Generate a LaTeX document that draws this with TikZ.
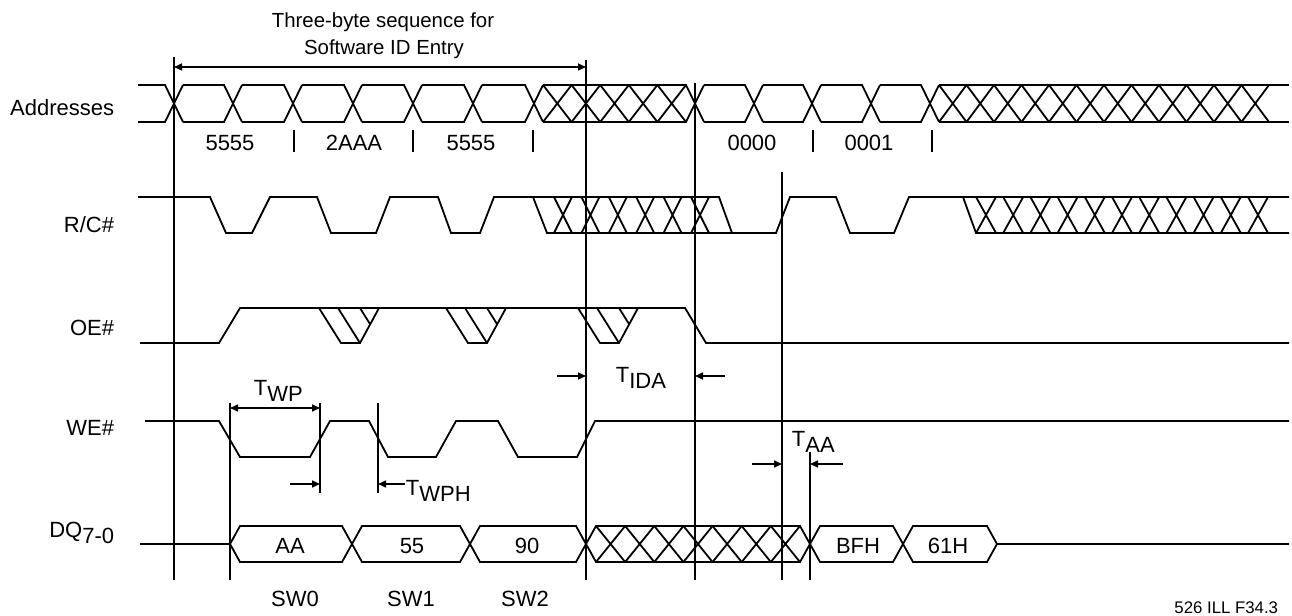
\documentclass[tikz,border=0pt]{standalone}
\usepackage{fontspec}
\setmainfont{Liberation Sans}
\usetikzlibrary{arrows.meta}

\tikzset{
  markline/.style={line width=0.8pt},
  dimarrow/.style={line width=0.8pt, -{Triangle[length=4pt, width=3.5pt]}},
  dimboth/.style={line width=0.8pt, {Triangle[length=4pt, width=3.5pt]}-{Triangle[length=4pt, width=3.5pt]}},
  signame/.style={anchor=base east, inner sep=0pt, font=\fontsize{11}{13}\selectfont},
  valtext/.style={anchor=base, inner sep=0pt, font=\fontsize{11}{13}\selectfont},
  tlabel/.style={anchor=base west, inner sep=0pt, font=\fontsize{11}{13}\selectfont},
}
\newcommand{\lowsub}[1]{\raisebox{-3.3pt}{#1}}

\begin{document}
\begin{tikzpicture}[x=0.5pt, y=-0.5pt, line width=0.9pt]
	\useasboundingbox (0,0) rectangle (1292,616);
	
	% title
	\node[valtext, font=\fontsize{10.2}{12}\selectfont] (title1) at (383,27) {Three-byte sequence for};
	\node[valtext, font=\fontsize{10.2}{12}\selectfont] (title2) at (384,54) {Software ID Entry};
	
	% signal names
	\node[signame] (addr) at (115,115) {Addresses};
	\node[signame] (rc) at (115,232) {R/C\#};
	\node[signame] (oe) at (115,335) {OE\#};
	\node[signame] (we) at (115,435) {WE\#};
	\node[signame] (dq) at (115,537) {DQ\lowsub{7-0}};
	
	% marker lines
	\coordinate (m1) at (174,57);
	\coordinate (m2) at (586,60);
	\coordinate (m3) at (695,83);
	\coordinate (m4) at (782,172);
	\coordinate (m5) at (810,452);
	\coordinate (wp1) at (230,403);
	\coordinate (wp2) at (320,403);
	\coordinate (wph) at (378,403);
	\foreach \m in {m1,m2,m3,m4,m5,wp1}
		\draw[markline] (\m) -- (\m |- 0,580);
	\foreach \m in {wp2,wph}
		\draw[markline] (\m) -- (\m |- 0,493);
	
	% Addresses
	\draw (138,85) -- (165,85) -- (183,122) (138,122) -- (165,122) -- (183,85);
	\foreach \a/\b in {174/233, 233/293, 293/353, 353/413, 413/473, 473/534, 695/754, 754/812, 812/871, 871/930}
		\draw (\a+9,85) -- (\b-9,85) -- (\b+9,122) (\a+9,122) -- (\b-9,122) -- (\b+9,85);
	\draw (543,85) -- (686,85) -- (704,122) (543,122) -- (686,122) -- (704,85);
	\foreach \k in {0,...,4}
		\draw (543+28.6*\k,85) -- (571.6+28.6*\k,122) (543+28.6*\k,122) -- (571.6+28.6*\k,85);
	\draw (939,85) -- (1289,85) (939,122) -- (1289,122);
	\foreach \k in {0,...,11}
		\draw (939+27.5*\k,85) -- (966.5+27.5*\k,122) (939+27.5*\k,122) -- (966.5+27.5*\k,85);
	
	\node[valtext] (a1) at (230,150) {5555};
	\node[valtext] (a2) at (354,150) {2AAA};
	\node[valtext] (a3) at (471,150) {5555};
	\node[valtext] (a4) at (752,150) {0000};
	\node[valtext] (a5) at (869,150) {0001};
	\foreach \x in {294,413,533,813,932}
		\draw[markline] (\x,130) -- (\x,152);
	
	% R/C#
	\draw (138,197) -- (210,197) -- (226,233) -- (252,233) -- (270,197) -- (317,197) -- (331,233) -- (376,233) -- (390,197) -- (438,197) -- (451,233) -- (480,233) -- (494,197) -- (719,197) -- (732,233) -- (776,233) -- (790,197) -- (836,197) -- (850,233) -- (894,233) -- (909,197) -- (1289,197);
	\draw (533,197) -- (547,233) -- (732,233);
	\foreach \k in {0,...,5}
		\draw (554+27.4*\k,197) -- (572+27.4*\k,233) (554+27.4*\k,233) -- (572+27.4*\k,197);
	\draw (963,197) -- (976,233) -- (1289,233);
	\foreach \k in {0,...,10}
		\draw (976+27.2*\k,197) -- (996+27.2*\k,233) (976+27.2*\k,233) -- (996+27.2*\k,197);
	
	% OE#
	\draw (140,343) -- (219,343) -- (240,308) -- (685,308) -- (706,343) -- (1289,343);
	\foreach \x in {319,446,578} {
		\draw (\x,308) -- (\x+22,343) -- (\x+41,343) -- (\x+60,308);
		\draw (\x+19,308) -- (\x+41,343);
		\draw (\x+41,308) -- (\x+51,324);
	}
	
	% WE#
	\draw (145,421) -- (219,421) -- (240,457) -- (310,457) -- (330,421) -- (369,421) -- (388,457) -- (436,457) -- (456,421) -- (498,421) -- (518,457) -- (577,457) -- (595,421) -- (1289,421);
	
	% DQ
	\draw (140,544) -- (230,544) -- (240,526) -- (342,526) -- (362,562) -- (460,562) -- (480,526) -- (576,526) -- (596,562) -- (800,562) -- (820,526) -- (893,526) -- (913,562) -- (987,562) -- (997,544) -- (1289,544);
	\draw (230,544) -- (240,562) -- (342,562) -- (362,526) -- (460,526) -- (480,562) -- (576,562) -- (596,526) -- (800,526) -- (820,562) -- (893,562) -- (913,526) -- (987,526) -- (997,544);
	\foreach \k in {0,...,6}
		\draw (596+29.14*\k,526) -- (625.14+29.14*\k,562) (596+29.14*\k,562) -- (625.14+29.14*\k,526);
	
	\node[valtext] (d1) at (290,553) {AA};
	\node[valtext] (d2) at (412,553) {55};
	\node[valtext] (d3) at (527,553) {90};
	\node[valtext] (d4) at (858,553) {BFH};
	\node[valtext] (d5) at (948,553) {61H};
	
	\node[valtext] (sw0) at (295,606) {SW0};
	\node[valtext] (sw1) at (411,606) {SW1};
	\node[valtext] (sw2) at (525,606) {SW2};
	
	% timing marks
	\draw[dimboth] (m1 |- 0,67) -- (m2 |- 0,67);
	\draw[dimboth] (wp1 |- 0,408) -- (wp2 |- 0,408);
	\node[tlabel] (twp) at (253,395) {T\lowsub{WP}};
	\coordinate (wphin) at (290,484);
	\node[tlabel] (twph) at (405,495) {T\lowsub{WPH}};
	\draw[dimarrow] (wphin) -- (wp2 |- wphin);
	\draw[dimarrow] (twph.west |- wphin) -- (wph |- wphin);
	\coordinate (idain) at (557,376);
	\coordinate (idaout) at (725,376);
	\node[tlabel] (tida) at (615,382) {T\lowsub{IDA}};
	\draw[dimarrow] (idain) -- (m2 |- idain);
	\draw[dimarrow] (idaout) -- (m3 |- idaout);
	\coordinate (aain) at (752,464);
	\coordinate (aaout) at (843,464);
	\node[tlabel] (taa) at (791,446) {T\lowsub{AA}};
	\draw[dimarrow] (aain) -- (m4 |- aain);
	\draw[dimarrow] (aaout) -- (m5 |- aaout);
	
	\node[anchor=base east, inner sep=0pt, font=\fontsize{8.4}{10}\selectfont] (fig) at (1279,613) {526 ILL F34.3};
\end{tikzpicture}
\end{document}
